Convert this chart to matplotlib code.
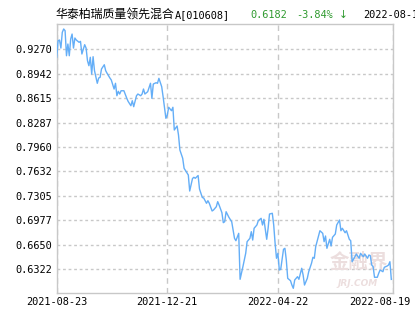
import matplotlib
matplotlib.use('Agg')
import matplotlib.pyplot as plt
import matplotlib.transforms as mtransforms

# fund NAV (x = trading day index)
days = [0, 1, 2, 3, 4, 5, 6, 7, 8, 9, 10, 11, 12, 13, 14, 16, 17, 18, 20, 21,
        22, 23, 24, 25, 26, 27, 29, 30, 31, 32, 34, 35, 36, 38, 39, 41, 42, 43, 44, 45,
        46, 48, 50, 51, 53, 54, 55, 57, 58, 60, 61, 62, 63, 65, 67, 68, 69, 71, 72, 73,
        75, 76, 78, 79, 80, 82, 83, 84, 86, 87, 88, 90, 91, 92, 94, 95, 97, 98, 99, 101,
        102, 104, 105, 107, 108, 109, 111, 112, 114, 115, 116, 118, 119, 120, 121, 123, 125, 127, 128, 130,
        131, 133, 135, 136, 138, 139, 140, 141, 143, 144, 146, 147, 148, 150, 151, 152, 154, 155, 156, 157,
        158, 159, 160, 162, 163, 164, 165, 167, 168, 169, 170, 172, 173, 175, 176, 177, 179, 180, 182, 183,
        184, 185, 187, 188, 190, 191, 192, 193, 195, 196, 197, 199, 200, 202, 203, 204, 206, 207, 209, 210,
        211, 213, 214, 216, 217, 219, 220, 222, 223, 224, 225, 226, 227, 229, 230, 231, 233, 234, 236, 237,
        238, 239]
nav = [0.9163, 0.9385, 0.9395, 0.9287, 0.9498, 0.9543, 0.9520, 0.9184, 0.9341, 0.9184,
       0.9408, 0.9475, 0.9287, 0.9422, 0.9395, 0.9364, 0.9377, 0.9207, 0.9332, 0.9287,
       0.9117, 0.9050, 0.9163, 0.8938, 0.9171, 0.8983, 0.8814, 0.8885, 0.8894, 0.9006,
       0.9063, 0.8983, 0.8948, 0.8885, 0.8858, 0.8737, 0.8814, 0.8647, 0.8706, 0.8670,
       0.8714, 0.8714, 0.8616, 0.8572, 0.8513, 0.8580, 0.8500, 0.8647, 0.8670, 0.8647,
       0.8670, 0.8737, 0.8670, 0.8701, 0.8814, 0.8612, 0.8804, 0.8822, 0.8814, 0.8881,
       0.8768, 0.8634, 0.8344, 0.8388, 0.8492, 0.8446, 0.8492, 0.8187, 0.8241, 0.8120,
       0.7918, 0.7807, 0.7673, 0.7643, 0.7583, 0.7368, 0.7536, 0.7552, 0.7539, 0.7576,
       0.7395, 0.7281, 0.7274, 0.7203, 0.7238, 0.7203, 0.7100, 0.7113, 0.7157, 0.7225,
       0.7180, 0.7077, 0.6943, 0.6956, 0.7090, 0.7015, 0.6956, 0.6733, 0.6701, 0.6800,
       0.6183, 0.6352, 0.6532, 0.6688, 0.6733, 0.6822, 0.6710, 0.6868, 0.6912, 0.6970,
       0.7002, 0.6912, 0.6988, 0.6720, 0.6868, 0.7059, 0.7069, 0.6912, 0.6666, 0.6465,
       0.6532, 0.6308, 0.6317, 0.6586, 0.6599, 0.6442, 0.6196, 0.6164, 0.6106, 0.6062,
       0.6174, 0.6218, 0.6183, 0.6331, 0.6241, 0.6106, 0.6196, 0.6285, 0.6398, 0.6478,
       0.6465, 0.6621, 0.6764, 0.6835, 0.6800, 0.6688, 0.6764, 0.6599, 0.6720, 0.6630,
       0.6747, 0.6791, 0.6912, 0.6979, 0.6835, 0.6868, 0.6808, 0.6835, 0.6720, 0.6701,
       0.6419, 0.6486, 0.6523, 0.6465, 0.6532, 0.6486, 0.6523, 0.6465, 0.6509, 0.6500,
       0.6375, 0.6352, 0.6210, 0.6210, 0.6264, 0.6308, 0.6285, 0.6344, 0.6361, 0.6375,
       0.6419, 0.6182]

y_ticks = [0.9270, 0.8942, 0.8615, 0.8287, 0.7960, 0.7632, 0.7305, 0.6977, 0.6650, 0.6322]
x_tick_idx = [0, 79, 158, 240]
x_tick_labels = ['2021-08-23', '2021-12-21', '2022-04-22', '2022-08-19']

fund_name = '华泰柏瑞质量领先混合'
fund_code = 'A[010608]'
last_nav = '0.6182'
last_chg = '-3.84%'
last_date = '2022-08-19'

grid_col = '#c8c8c8'
line_col = '#64aef7'
green = '#2f9a2f'
mono = 'DejaVu Sans Mono'

fig = plt.figure(figsize=(4.15, 3.30), dpi=100)
ax = fig.add_axes([0.1366, 0.1112, 0.8097, 0.8152])

ax.plot(days, nav, color=line_col, lw=1.0, zorder=3)

ax.set_xlim(0, 240)
ax.set_ylim(0.5995, 0.9606)

ax.set_yticks(y_ticks)
ax.set_yticklabels(['%.4f' % v for v in y_ticks], fontfamily=mono, fontsize=7.4)
ax.set_xticks(x_tick_idx)
ax.set_xticklabels(x_tick_labels, fontfamily=mono, fontsize=7.4)
ax.tick_params(length=0, pad=3, colors='black')

# last x label is pulled inside the figure
lab = ax.get_xticklabels()[-1]
lab.set_transform(lab.get_transform() + mtransforms.ScaledTranslation(-0.127, 0, fig.dpi_scale_trans))

ax.yaxis.grid(True, color=grid_col, lw=1, linestyle=(0, (2, 2)))
ax.xaxis.grid(True, color=grid_col, lw=1, linestyle=(0, (4, 3)))
ax.set_axisbelow(True)
for s in ax.spines.values():
    s.set_color(grid_col)
    s.set_linewidth(1)

# faint watermark
ax.text(0.90, 0.115, '金融界', transform=ax.transAxes, ha='center', va='center',
        fontsize=14, fontweight='bold', family=['Noto Sans CJK SC'], color='#ecdede', zorder=1)
ax.text(0.895, 0.035, 'JRJ.COM', transform=ax.transAxes, ha='center', va='center',
        fontsize=6.5, fontweight='bold', fontstyle='italic', color='#ecdede', zorder=1)

# header line
ty = 1 - 15 / 330
fig.text(55 / 415, ty, fund_name, ha='left', va='center', fontsize=8.6,
         family=['Noto Sans CJK SC', 'DejaVu Sans'], color='black')
fig.text(175 / 415, ty, fund_code, ha='left', va='center', fontsize=7.4, family=mono, color='black')
fig.text(250 / 415, ty, last_nav, ha='left', va='center', fontsize=7.4, family=mono, color=green)
fig.text(296 / 415, ty, last_chg, ha='left', va='center', fontsize=7.4, family=mono, color=green)
fig.text(339 / 415, ty, '↓', ha='left', va='center', fontsize=7.6, family='DejaVu Sans', color=green)
fig.text(363 / 415, ty, last_date, ha='left', va='center', fontsize=7.4, family=mono, color='black')

fig.savefig('out.png', dpi=100)
